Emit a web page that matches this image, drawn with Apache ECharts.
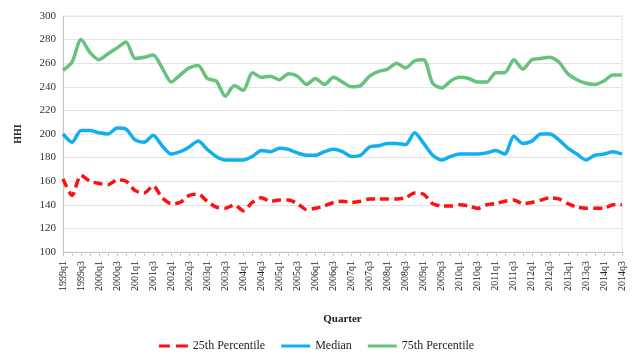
<!DOCTYPE html>
<html><head><meta charset="utf-8">
<script src="https://cdn.jsdelivr.net/npm/echarts@6/dist/echarts.min.js"></script>
<style>html,body{margin:0;padding:0;background:#fff}#c{width:633px;height:354px}</style>
</head><body><div id="c"></div>
<script>
const quarters = ["1999q1","1999q2","1999q3","1999q4","2000q1","2000q2","2000q3","2000q4",
"2001q1","2001q2","2001q3","2001q4","2002q1","2002q2","2002q3","2002q4",
"2003q1","2003q2","2003q3","2003q4","2004q1","2004q2","2004q3","2004q4",
"2005q1","2005q2","2005q3","2005q4","2006q1","2006q2","2006q3","2006q4",
"2007q1","2007q2","2007q3","2007q4","2008q1","2008q2","2008q3","2008q4",
"2009q1","2009q2","2009q3","2009q4","2010q1","2010q2","2010q3","2010q4",
"2011q1","2011q2","2011q3","2011q4","2012q1","2012q2","2012q3","2012q4",
"2013q1","2013q2","2013q3","2013q4","2014q1","2014q2","2014q3"];
const p25 = [162,148,165,160,158,157,161,160,152,150,156,146,141,142,148,149,
143,138,137,140,135,142,146,143,144,144,141,136,137,139,142,143,
142,143,145,145,145,145,146,150,149,141,139,139,140,139,137,140,
141,143,144,141,142,144,146,145,141,138,137,137,137,140,140];
const median = [200,193,203,203,201,200,205,204,195,193,199,190,183,185,189,194,
187,181,178,178,178,181,186,185,188,187,184,182,182,185,187,185,
181,182,189,190,192,192,191,201,192,182,178,181,183,183,183,184,
186,183,198,192,194,200,200,195,188,183,178,182,183,185,183];
const p75 = [254,261,280,269,263,268,273,278,264,265,267,256,244,250,256,258,
247,245,232,241,237,252,248,249,246,251,249,242,247,242,248,244,
240,241,249,253,255,260,256,262,263,243,239,245,248,247,244,244,
252,252,263,255,263,264,265,261,251,246,243,242,245,250,250];
const yTicks = {min:100, max:300, step:20};

const serif = '"Liberation Serif", "DejaVu Serif", serif';
const chart = echarts.init(document.getElementById('c'));
chart.setOption({
  animation:false,
  grid:{left:63, right:11, top:16, bottom:102, show:true, borderColor:'#e4e4e4', borderWidth:1},
  legend:{
    bottom:-3, left:'center', itemWidth:29, itemHeight:3, itemGap:16,
    textStyle:{fontFamily:serif, fontSize:12, color:'#222'},
    data:[
      {name:'25th Percentile', icon:'path://M0,0 L11,0 L11,3 L0,3 Z M17,0 L29,0 L29,3 L17,3 Z'},
      {name:'Median', icon:'rect'},
      {name:'75th Percentile', icon:'rect'}
    ]
  },
  xAxis:{
    type:'category', data:quarters, boundaryGap:false,
    name:'Quarter', nameLocation:'middle', nameGap:62,
    nameTextStyle:{fontFamily:serif, fontSize:11, fontWeight:'bold', color:'#222'},
    axisLine:{lineStyle:{color:'#c8c8c8'}},
    axisTick:{show:true, interval:0, length:4, lineStyle:{color:'#c8c8c8'}},
    axisLabel:{rotate:90, interval:1, fontFamily:serif, fontSize:10, color:'#222', margin:9},
    splitLine:{show:false}
  },
  yAxis:{
    type:'value', min:yTicks.min, max:yTicks.max, interval:yTicks.step,
    name:'HHI', nameLocation:'middle', nameGap:40, nameRotate:90,
    nameTextStyle:{fontFamily:serif, fontSize:10, fontWeight:'bold', color:'#222'},
    axisLine:{show:true, lineStyle:{color:'#c8c8c8'}},
    axisTick:{show:false},
    axisLabel:{fontFamily:serif, fontSize:11, color:'#333', margin:7},
    splitLine:{lineStyle:{color:'#e4e4e4', width:1}}
  },
  series:[
    {name:'25th Percentile', type:'line', data:p25, showSymbol:false, smooth:0.25,
     lineStyle:{color:'#ff1010', width:3.5, type:[9,5]}, itemStyle:{color:'#ff1010'}},
    {name:'Median', type:'line', data:median, showSymbol:false, smooth:0.25,
     lineStyle:{color:'#11aef0', width:3.5}, itemStyle:{color:'#11aef0'}},
    {name:'75th Percentile', type:'line', data:p75, showSymbol:false, smooth:0.25,
     lineStyle:{color:'#66c27c', width:3.5}, itemStyle:{color:'#66c27c'}}
  ]
});
</script>
</body></html>
